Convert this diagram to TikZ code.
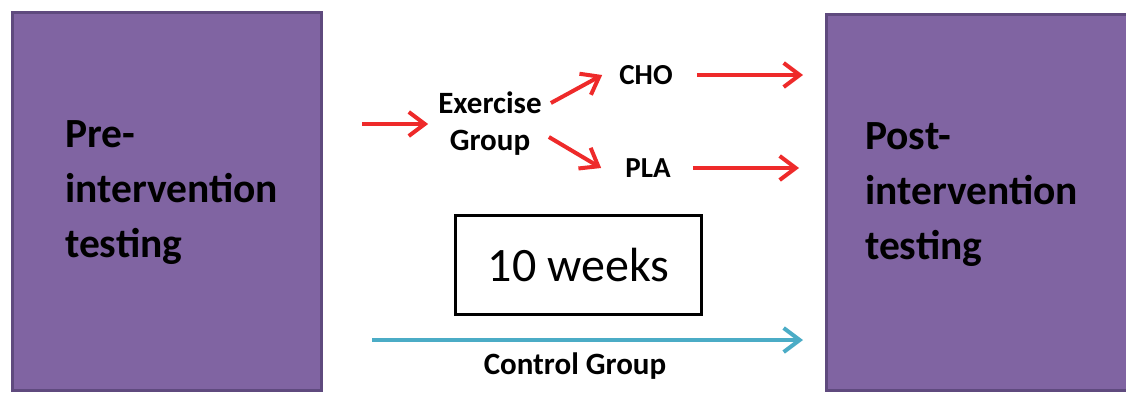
\documentclass[tikz,border=0pt]{standalone}
\usepackage{fontspec}
\setmainfont{Carlito}
\usetikzlibrary{arrows.meta}
\definecolor{boxpurple}{HTML}{8064A2}
\definecolor{boxedge}{HTML}{5F4A7E}
\definecolor{arrred}{HTML}{EE2A2A}
\definecolor{arrcyan}{HTML}{4BACC6}
\tikzset{
  testbox/.style={draw=boxedge, fill=boxpurple, line width=2.5pt},
  boxtext/.style={anchor=north west, inner sep=0pt, align=left, font=\fontsize{41.5}{55}\selectfont\bfseries},
  lbl/.style={inner sep=0pt, font=\fontsize{31}{37}\selectfont\bfseries, align=center},
  redarr/.style={draw=arrred, line width=4pt, -{Straight Barb[length=16pt,width=24pt]}},
  cyanarr/.style={draw=arrcyan, line width=4pt, -{Straight Barb[length=16pt,width=24pt]}},
}
\begin{document}
\begin{tikzpicture}[x=1pt,y=-1pt]
\useasboundingbox (0,0) rectangle (1126,392);
% boxes
\node[testbox, minimum width=309pt, minimum height=378pt, anchor=north west] (pre) at (11,11) {};
\node[testbox, minimum width=320pt, minimum height=376pt, anchor=north west] (post) at (825,13) {};
\node[boxtext] (pretxt) at (65,120) {Pre-\\intervention\\testing};
\node[boxtext] (posttxt) at (865,122) {Post-\\intervention\\testing};
% labels
\node[lbl] (ex) at (490,124) {Exercise\\Group};
\node[lbl, font=\fontsize{29}{35}\selectfont\bfseries] (cho) at (646,75) {CHO};
\node[lbl, font=\fontsize{29}{35}\selectfont\bfseries] (pla) at (648,168) {PLA};
\node[draw, line width=3pt, minimum width=246pt, minimum height=99pt, font=\fontsize{48}{52}\selectfont] (wk) at (578.5,265) {10 weeks};
\node[lbl] (ctl) at (575,366) {Control Group};
% coordinates for free ends
\coordinate (inS) at (362,124);
\coordinate (choE) at (803,75);
\coordinate (plaE) at (799,168);
\coordinate (ctlS) at (372,340);
\coordinate (ctlE) at (803,340);
% arrows
\draw[redarr] (inS) -- ([xshift=-10pt]ex.west);
\draw[redarr] ([xshift=9pt,yshift=21pt]ex.east) -- ([xshift=-17pt]cho.west);
\draw[redarr] ([xshift=7pt,yshift=-13pt]ex.east) -- ([xshift=-24pt]pla.west);
\draw[redarr] ([xshift=24pt]cho.east) -- (choE);
\draw[redarr] ([xshift=22pt]pla.east) -- (plaE);
\draw[cyanarr] (ctlS) -- (ctlE);
\end{tikzpicture}
\end{document}
